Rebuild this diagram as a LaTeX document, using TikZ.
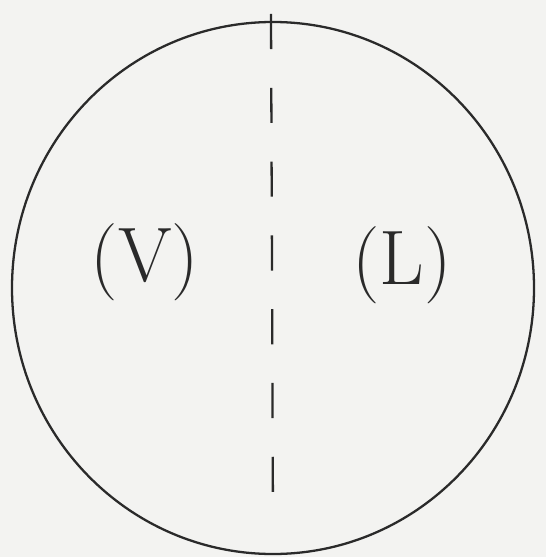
\documentclass[tikz,border=0pt]{standalone}
\usetikzlibrary{positioning}
\definecolor{paper}{HTML}{F3F3F1}
\definecolor{pencil}{HTML}{2A2A2A}
\tikzset{
  outline/.style={draw=pencil,line width=1.3pt},
  cutline/.style={draw=pencil,line width=1.3pt,dash pattern=on 20pt off 22pt},
  phase/.style={text=pencil,font=\fontsize{44}{50}\selectfont}
}

\begin{document}
\begin{tikzpicture}[x=0.02cm,y=-0.02cm]
\fill[paper] (0,0) rectangle (546,557);
\useasboundingbox (0,0) rectangle (546,557);
% vessel wall
\draw[outline] (273,288) ellipse [x radius=261,y radius=266];
% interface
\coordinate (top) at (271,14);
\coordinate (bot) at (273,522);
\draw[cutline] (top) -- (bot);
% the two phases
\node[phase] (vap) at (145,262) {(V)};
\node[phase] (liq) at (402,265) {(L)};
\end{tikzpicture}
\end{document}
